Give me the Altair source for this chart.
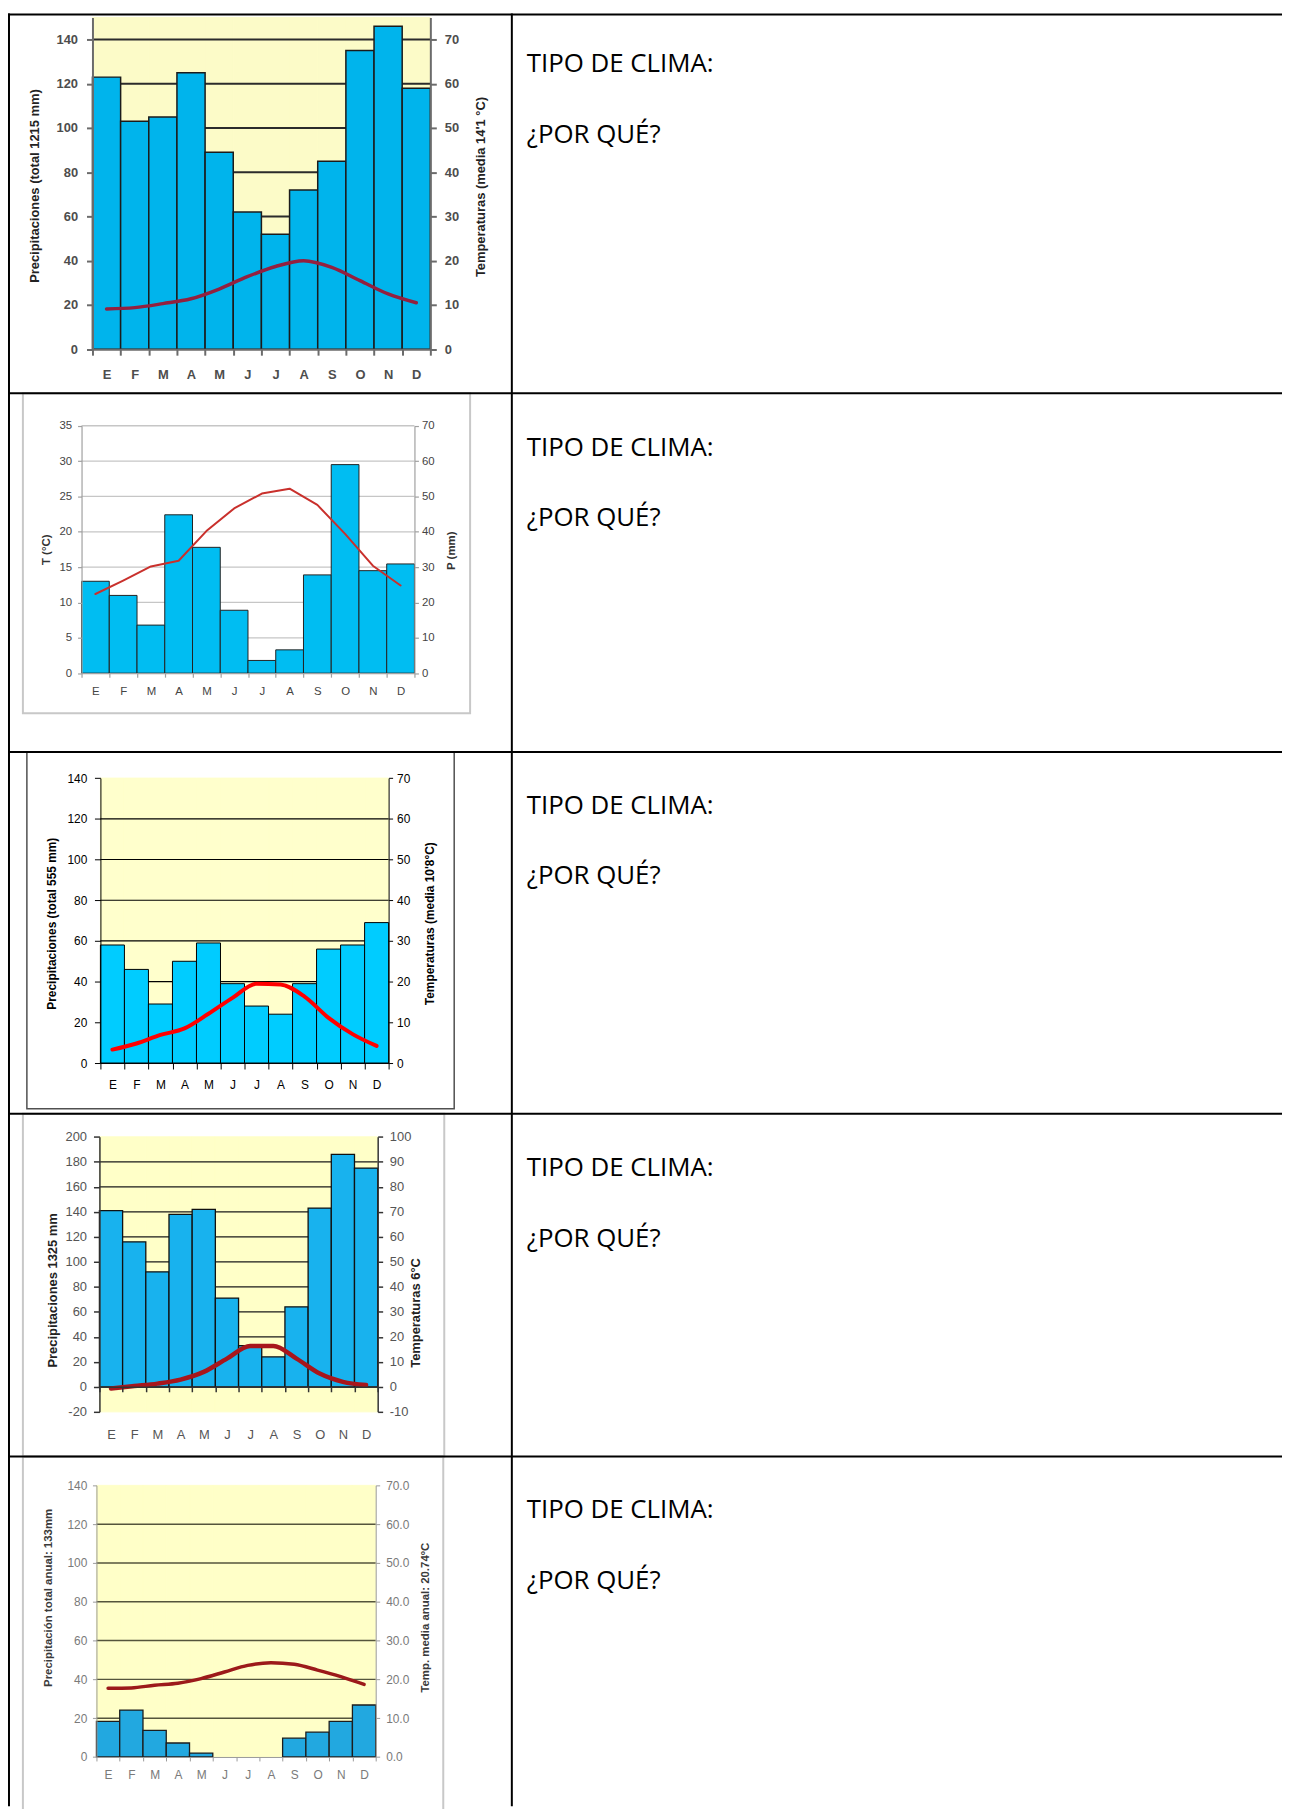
import altair as alt
import pandas as pd

# ---------------- data ----------------
MONTHS = ["Ene", "Feb", "Mar", "Abr", "May", "Jun", "Jul", "Ago", "Sep", "Oct", "Nov", "Dic"]

P1 = [123, 103, 105, 125, 89, 62, 52, 72, 85, 135, 146, 118]
T1 = [9.1, 9.4, 10.3, 11.4, 13.6, 16.4, 18.7, 20.0, 18.5, 15.5, 12.5, 10.5]
P2 = [26, 22, 13.6, 44.8, 35.6, 17.8, 3.6, 6.6, 27.8, 59, 29, 30.9]
T2 = [11.2, 13.1, 15.1, 15.9, 20.1, 23.3, 25.4, 26.1, 23.8, 19.7, 15.2, 12.4]
P3 = [58, 46, 29, 50, 59, 39, 28, 24, 39, 56, 58, 69]
T3 = [3.3, 4.8, 6.9, 8.5, 12.1, 16.0, 19.5, 19.3, 16.3, 11.1, 7.1, 4.2]
P4 = [141, 116, 92, 138, 142, 71, 33, 24, 64, 143, 186, 175]
T4 = [-0.7, 0.3, 1.3, 2.9, 6.0, 11.3, 16.3, 16.3, 11.3, 5.3, 2.0, 0.7]
P5 = [18.3, 24.2, 13.7, 7.2, 2.0, 0, 0, 0, 9.7, 12.8, 18.3, 26.8]
T5 = [17.7, 17.8, 18.5, 19.0, 20.2, 21.9, 23.6, 24.3, 23.9, 22.4, 20.7, 18.7]

P1_TICKS = [0, 20, 40, 60, 80, 100, 120, 140]
T1_TICKS = [0, 10, 20, 30, 40, 50, 60, 70]
P2_TICKS = [0, 10, 20, 30, 40, 50, 60, 70]
T2_TICKS = [0, 5, 10, 15, 20, 25, 30, 35]
P3_TICKS = [0, 20, 40, 60, 80, 100, 120, 140]
T3_TICKS = [0, 10, 20, 30, 40, 50, 60, 70]
P4_TICKS = [-20, 0, 20, 40, 60, 80, 100, 120, 140, 160, 180, 200]
T4_TICKS = [-10, 0, 10, 20, 30, 40, 50, 60, 70, 80, 90, 100]
P5_TICKS = [0, 20, 40, 60, 80, 100, 120, 140]
T5_TICKS = [0, 10, 20, 30, 40, 50, 60, 70]

GRID1 = [20, 40, 60, 80, 100, 120, 140]
GRID2 = [10, 20, 30, 40, 50, 60, 70]
GRID3 = [20, 40, 60, 80, 100, 120]
GRID4 = [20, 40, 60, 80, 100, 120, 140, 160, 180]
GRID5 = [20, 40, 60, 80, 100, 120]

TITLES_P = ["Precipitaciones (total 1215 mm)", "P (mm)", "Precipitaciones (total 555 mm)",
            "Precipitaciones 1325 mm", "Precipitación total anual: 133mm"]
TITLES_T = ["Temperaturas (media 14'1 °C)", "T (°C)", "Temperaturas (media 10'8°C)",
            "Temperaturas 6°C", "Temp. media anual: 20.74ºC"]

TEXT_TIPO = "TIPO DE CLIMA:"
TEXT_PQ = "¿POR QUÉ?"

# ---------------- layout / styles ----------------
W, H = 1282, 1801
MARGIN = 8
FONT = "Liberation Sans"


def vx(p):
    return p - MARGIN


def vy(p):
    return p - MARGIN


S1 = dict(xl=93, xr=433, yb=345.7, yt=11.8, p_dom=[0, 150], t_dom=[0, 75], p_side="left",
          left=dict(tick=6, pad=9, pos=(35, 181)), right=dict(tick=6, pad=8, pos=(483, 182)),
          xaxis_y=345.7, xtick=6, xpad=19.5,
          label_size=13, label_weight="bold", label_color="#4d4d4d", title_size=13, title_color="#222222",
          axis_color="#6b6b6b", axis_width=2, yellow="#FCFBC8", grid_color="#2b2b2b", grid_width=2,
          bar_fill="#00B4EC", bar_stroke="#1b1b1b", bar_sw=1.5, line_color="#93203F", line_w=3.5,
          interp="monotone")
S2 = dict(xl=82, xr=417, yb=671.7, yt=422.7, p_dom=[0, 70], t_dom=[0, 35], p_side="right",
          left=dict(tick=4, pad=6, pos=(47, 547)), right=dict(tick=4, pad=3, pos=(454, 548)),
          xaxis_y=671.7, xtick=4, xpad=14.3,
          label_size=11.5, label_weight="normal", label_color="#444444", title_size=11.5, title_color="#333333",
          axis_color="#a0a0a0", axis_width=1.2, yellow=None, grid_color="#C6C6C6", grid_width=1.3,
          bar_fill="#00BDF2", bar_stroke="#222222", bar_sw=1, line_color="#C9302C", line_w=2,
          interp="linear")
S3 = dict(xl=101, xr=391, yb=1064, yt=777.3, p_dom=[0, 140], t_dom=[0, 70], p_side="left",
          left=dict(tick=6, pad=7.7, pos=(51.7, 923.3)), right=dict(tick=4, pad=4, pos=(432.3, 923.3)),
          xaxis_y=1064, xtick=6, xpad=15.7,
          label_size=12, label_weight="normal", label_color="#000000", title_size=12, title_color="#000000",
          axis_color="#000000", axis_width=1, yellow="#FFFFCC", grid_color="#000000", grid_width=1.2,
          bar_fill="#00CCFF", bar_stroke="#000000", bar_sw=1, line_color="#FF0000", line_w=4,
          interp="monotone")
S4 = dict(xl=100, xr=380, yb=1415, yt=1138.3, p_dom=[-20, 200], t_dom=[-10, 100], p_side="left",
          left=dict(tick=6, pad=7, pos=(53.3, 1292.3)), right=dict(tick=5, pad=6.7, pos=(418.3, 1315)),
          xaxis_y=1389.8, xtick=5, xpad=43.5,
          label_size=13, label_weight="normal", label_color="#555555", title_size=13, title_color="#222222",
          axis_color="#333333", axis_width=1.5, yellow="#FFFFC8", grid_color="#1a1a1a", grid_width=1.3,
          bar_fill="#18B2EE", bar_stroke="#111111", bar_sw=1.3, line_color="#A8161C", line_w=4.5,
          interp="monotone", plain_minus=True)
S5 = dict(xl=97, xr=378, yb=1762.3, yt=1489, p_dom=[0, 140], t_dom=[0, 70], p_side="left",
          left=dict(tick=4, pad=5.7, pos=(48.3, 1601.7)), right=dict(tick=4, pad=6, pos=(427.7, 1621.7)),
          xaxis_y=1762.3, xtick=4, xpad=13.7,
          label_size=12, label_weight="normal", label_color="#7a7a7a", title_size=11.5, title_color="#3a3a3a",
          axis_color="#9a9a9a", axis_width=1, yellow="#FFFFC8", grid_color="#55553c", grid_width=1.5,
          bar_fill="#22A8E0", bar_stroke="#1d1d1d", bar_sw=1.3, line_color="#9C1A1A", line_w=3.5,
          interp="monotone", t_format=".1f")


def climograph(P, T, p_ticks, t_ticks, grid, title_p, title_t, s):
    df = pd.DataFrame({"m": MONTHS, "p": P, "t": T})
    xs = alt.Scale(type="band", domain=MONTHS, range=[vx(s["xl"]), vx(s["xr"])],
                   paddingInner=0, paddingOuter=0)
    rng = [vy(s["yb"]), vy(s["yt"])]
    ps = alt.Scale(domain=s["p_dom"], range=rng, nice=False, zero=False)
    ts = alt.Scale(domain=s["t_dom"], range=rng, nice=False, zero=False)

    def yaxis(side, values, title, fmt=None):
        a = s[side]
        if side == "left":
            off = -vx(s["xl"])
            tx = a["pos"][0] - s["xl"]
        else:
            off = vx(s["xr"]) - W
            tx = a["pos"][0] - s["xr"]
        kw = dict(orient=side, offset=off, values=values, grid=False, title=title,
                  titleX=tx, titleY=vy(a["pos"][1]), titleAngle=270, titleAlign="center",
                  titleBaseline="middle", titleFont=FONT, titleFontSize=s["title_size"],
                  titleFontWeight="bold", titleColor=s["title_color"],
                  labelFont=FONT, labelFontSize=s["label_size"], labelFontWeight=s["label_weight"],
                  labelColor=s["label_color"], labelPadding=a["pad"], tickSize=a["tick"],
                  tickColor=s["axis_color"], tickWidth=s["axis_width"],
                  domainColor=s["axis_color"], domainWidth=s["axis_width"],
                  labelOverlap=False, labelFlush=False, zindex=1)
        if fmt:
            kw["format"] = fmt
        if s.get("plain_minus"):
            kw["labelExpr"] = "'' + datum.value"
        return alt.Axis(**kw)

    t_side = "right" if s["p_side"] == "left" else "left"
    pax = yaxis(s["p_side"], p_ticks, title_p)
    tax = yaxis(t_side, t_ticks, title_t, s.get("t_format"))
    xax = alt.Axis(orient="bottom", offset=vy(s["xaxis_y"]) - H, title=None,
                   labelExpr="substring(datum.label, 0, 1)", tickBand="extent",
                   tickSize=s["xtick"], labelPadding=s["xpad"], labelBaseline="middle", labelAngle=0,
                   labelFont=FONT, labelFontSize=s["label_size"], labelFontWeight=s["label_weight"],
                   labelColor=s["label_color"], tickColor=s["axis_color"], tickWidth=s["axis_width"],
                   domainColor=s["axis_color"], domainWidth=s["axis_width"], zindex=1)

    layers = []
    if s["yellow"]:
        layers.append(
            alt.Chart(df).mark_rect(color=s["yellow"], stroke=s["yellow"], strokeWidth=1).encode(
                x=alt.X("m:N", scale=xs, axis=None),
                y=alt.YDatum(s["p_dom"][1], scale=ps, axis=None),
                y2=alt.Y2Datum(s["p_dom"][0]),
            )
        )
    layers.append(
        alt.Chart(pd.DataFrame({"g": grid})).mark_rule(color=s["grid_color"], strokeWidth=s["grid_width"]).encode(
            y=alt.Y("g:Q", scale=ps, axis=None),
            x=alt.value(vx(s["xl"])),
            x2=alt.value(vx(s["xr"])),
        )
    )
    layers.append(
        alt.Chart(df).transform_filter("datum.p > 0").mark_bar(
            color=s["bar_fill"], stroke=s["bar_stroke"], strokeWidth=s["bar_sw"]).encode(
            x=alt.X("m:N", scale=xs, axis=xax),
            y=alt.Y("p:Q", scale=ps, axis=pax),
            y2=alt.Y2Datum(0),
        )
    )
    layers.append(
        alt.Chart(df).mark_line(color=s["line_color"], strokeWidth=s["line_w"],
                                interpolate=s["interp"], strokeCap="round", strokeJoin="round").encode(
            x=alt.X("m:N", scale=xs, axis=None, bandPosition=0.5),
            y=alt.Y("t:Q", scale=ts, axis=tax),
        )
    )
    return alt.layer(*layers).resolve_scale(x="shared", y="independent").resolve_axis(
        x="independent", y="independent")


one = pd.DataFrame({"k": [0]})


def hline(y, x0, x1, w=2, color="#000000"):
    return alt.Chart(one).mark_rule(color=color, strokeWidth=w).encode(
        x=alt.value(vx(x0)), x2=alt.value(vx(x1)), y=alt.value(vy(y)))


def vline(x, y0, y1, w=2, color="#000000"):
    return alt.Chart(one).mark_rule(color=color, strokeWidth=w).encode(
        x=alt.value(vx(x)), y=alt.value(vy(y0)), y2=alt.value(vy(y1)))


def frame(x0, y0, x1, y1, color, w):
    return alt.Chart(one).mark_rect(fillOpacity=0, stroke=color, strokeWidth=w).encode(
        x=alt.value(vx(x0)), x2=alt.value(vx(x1)), y=alt.value(vy(y0)), y2=alt.value(vy(y1)))


def label(txt, x, y):
    return alt.Chart(pd.DataFrame({"t": [txt]})).mark_text(
        align="left", baseline="alphabetic", font="Open Sans", fontSize=26, color="#000000").encode(
        x=alt.value(vx(x)), y=alt.value(vy(y)), text="t:N")


frames = [
    frame(23, 390, 473, 712, "#C8C8C8", 2),
    frame(27, 751, 457, 1110, "#505050", 1.5),
    frame(23, 1115, 447, 1460, "#C8C8C8", 2),
    frame(23, 1460, 446, 1830, "#C8C8C8", 2),
]

climos = [
    climograph(P1, T1, P1_TICKS, T1_TICKS, GRID1, TITLES_P[0], TITLES_T[0], S1),
    climograph(P2, T2, P2_TICKS, T2_TICKS, GRID2, TITLES_P[1], TITLES_T[1], S2),
    climograph(P3, T3, P3_TICKS, T3_TICKS, GRID3, TITLES_P[2], TITLES_T[2], S3),
    climograph(P4, T4, P4_TICKS, T4_TICKS, GRID4, TITLES_P[3], TITLES_T[3], S4),
    climograph(P5, T5, P5_TICKS, T5_TICKS, GRID5, TITLES_P[4], TITLES_T[4], S5),
]

ROW_LINES = [9, 390, 751, 1115, 1460]
table = [hline(y, 8, 1292) for y in ROW_LINES]
table += [vline(9, 8, 1812), vline(515, 8, 1812)]

TEXT_BASE = [67, 453, 813, 1178, 1522]
texts = []
for b in TEXT_BASE:
    texts.append(label(TEXT_TIPO, 530, b))
    texts.append(label(TEXT_PQ, 530, b + 71))

chart = alt.layer(*frames, *climos, *table, *texts).resolve_scale(
    x="independent", y="independent").resolve_axis(
    x="independent", y="independent").properties(
    width=W, height=H, padding=0, autosize=alt.AutoSizeParams(type="none")
).configure_view(stroke=None)

chart.save("out.html", embed_options={"renderer": "svg", "actions": False})
